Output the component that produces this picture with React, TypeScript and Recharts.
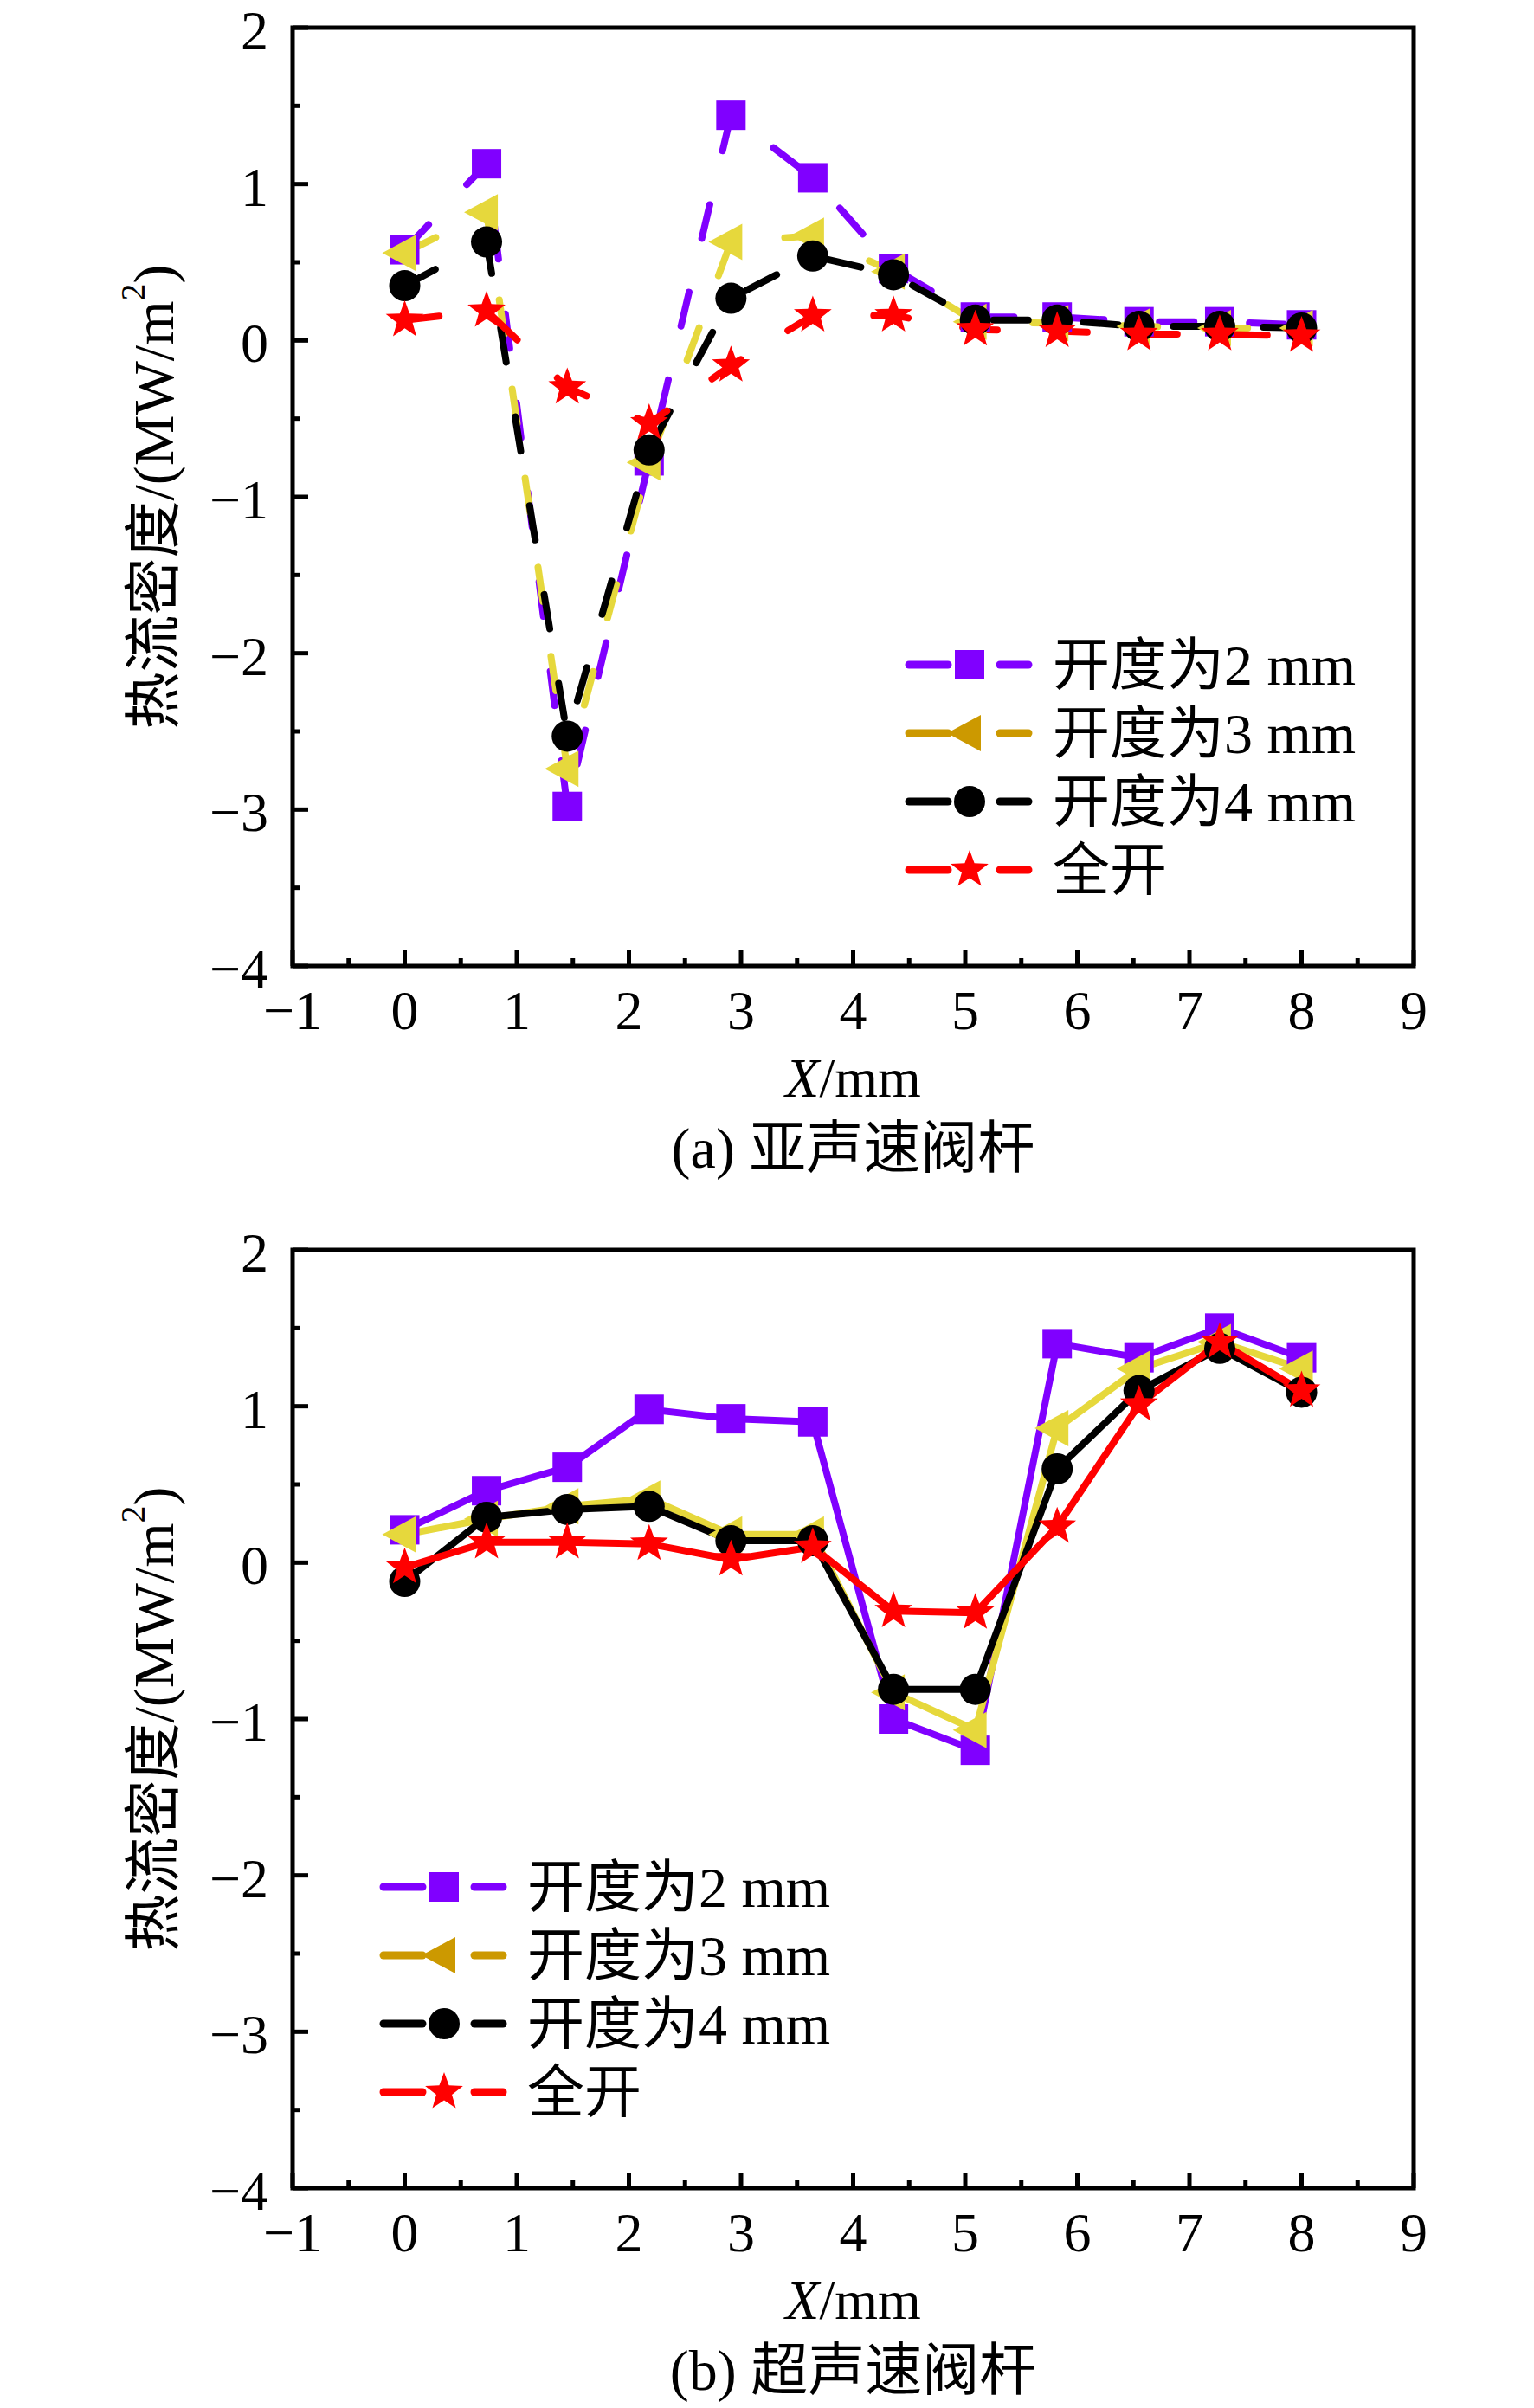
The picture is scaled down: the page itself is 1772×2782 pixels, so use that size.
import React from "react";
import { LineChart, Line, XAxis, YAxis, ReferenceArea, Legend } from "recharts";

const FONT = "'Liberation Serif', 'Times New Roman', 'Noto Sans CJK SC', serif";

// measuring positions along the stem, mm
const xPositions = [0, 0.73, 1.45, 2.18, 2.91, 3.64, 4.36, 5.09, 5.82, 6.55, 7.27, 8];

// (a) subsonic stem, heat flux MW/m2
const subOpen2 = [0.58, 1.13, -2.98, -0.77, 1.44, 1.04, 0.46, 0.15, 0.15, 0.12, 0.12, 0.1];
const subOpen3 = [0.56, 0.82, -2.74, -0.78, 0.63, 0.67, 0.44, 0.12, 0.11, 0.09, 0.08, 0.08];
const subOpen4 = [0.35, 0.63, -2.53, -0.7, 0.27, 0.54, 0.42, 0.13, 0.13, 0.09, 0.09, 0.08];
const subFull = [0.13, 0.19, -0.3, -0.53, -0.16, 0.16, 0.16, 0.07, 0.06, 0.04, 0.04, 0.03];

// (b) supersonic stem
const supOpen2 = [0.21, 0.46, 0.61, 0.98, 0.92, 0.9, -1.0, -1.2, 1.4, 1.31, 1.5, 1.31];
const supOpen3 = [0.18, 0.28, 0.36, 0.41, 0.18, 0.18, -0.83, -1.07, 0.86, 1.24, 1.41, 1.24];
const supOpen4 = [-0.12, 0.29, 0.34, 0.36, 0.14, 0.14, -0.81, -0.81, 0.6, 1.1, 1.37, 1.09];
const supFull = [-0.03, 0.13, 0.13, 0.12, 0.02, 0.1, -0.31, -0.32, 0.23, 1.01, 1.41, 1.1];

const seriesNames = ["开度为2 mm", "开度为3 mm", "开度为4 mm", "全开"];
const xTicks = [-1, -0.5, 0, 0.5, 1, 1.5, 2, 2.5, 3, 3.5, 4, 4.5, 5, 5.5, 6, 6.5, 7, 7.5, 8, 8.5, 9];
const yTicks = [-4, -3.5, -3, -2.5, -2, -1.5, -1, -0.5, 0, 0.5, 1, 1.5, 2];

const series = [
  { key: "o2", name: seriesNames[0], color: "#8000ff", legendColor: "#8000ff", shape: "square" },
  { key: "o3", name: seriesNames[1], color: "#e6d83c", legendColor: "#cc9900", shape: "triangle" },
  { key: "o4", name: seriesNames[2], color: "#000000", legendColor: "#000000", shape: "circle" },
  { key: "full", name: seriesNames[3], color: "#ff0000", legendColor: "#ff0000", shape: "star" },
];

const buildRows = (o2: number[], o3: number[], o4: number[], full: number[]) =>
  xPositions.map((x, i) => ({ x, o2: o2[i], o3: o3[i], o4: o4[i], full: full[i] }));

const subRows = buildRows(subOpen2, subOpen3, subOpen4, subFull);
const supRows = buildRows(supOpen2, supOpen3, supOpen4, supFull);

const fmt = (v: number) => (v < 0 ? "\u2212" + Math.abs(v) : String(v));

const Marker = ({ shape, x, y, color }: any) => {
  if (shape === "square") return <rect x={x - 17} y={y - 17} width={34} height={34} fill={color} />;
  if (shape === "triangle")
    return <polygon points={`${x - 26},${y} ${x + 13},${y - 21} ${x + 13},${y + 21}`} fill={color} />;
  if (shape === "circle") return <circle cx={x} cy={y} r={18} fill={color} />;
  // five point star
  const pts: string[] = [];
  for (let k = 0; k < 10; k++) {
    const r = k % 2 === 0 ? 23 : 9.5;
    const a = -Math.PI / 2 + (k * Math.PI) / 5;
    pts.push(`${x + r * Math.cos(a)},${y + r * Math.sin(a)}`);
  }
  return <polygon points={pts.join(" ")} fill={color} />;
};

const makeDot = (shape: string, color: string) => (props: any) => {
  const { cx, cy, index } = props;
  if (cx == null || cy == null) return <g key={`d-${index}`} />;
  return (
    <g key={`d-${index}`}>
      <Marker shape={shape} x={cx} y={cy} color={color} />
    </g>
  );
};

const XTick = (props: any) => {
  const { x, y, payload } = props;
  const v = payload.value;
  const major = Number.isInteger(v);
  return (
    <g>
      <line x1={x} x2={x} y1={y} y2={y - (major ? 18 : 9)} stroke="#000" strokeWidth={5} />
      {major && (
        <text x={x} y={y + 73} textAnchor="middle" fontSize={64} fontFamily={FONT} fill="#000">
          {fmt(v)}
        </text>
      )}
    </g>
  );
};

const YTick = (props: any) => {
  const { x, y, payload } = props;
  const v = payload.value;
  const major = Number.isInteger(v);
  return (
    <g>
      <line x1={x} x2={x + (major ? 18 : 9)} y1={y} y2={y} stroke="#000" strokeWidth={5} />
      {major && (
        <text x={x - 28} y={y + 25} textAnchor="end" fontSize={64} fontFamily={FONT} fill="#000">
          {fmt(v)}
        </text>
      )}
    </g>
  );
};

const LegendBox = () => (
  <svg width={640} height={360} style={{ overflow: "visible" }}>
    {series.map((s, i) => {
      const cy = 45 + i * 79;
      return (
        <g key={s.key}>
          <line x1={5} x2={50} y1={cy} y2={cy} stroke={s.legendColor} strokeWidth={9} strokeLinecap="round" />
          <Marker shape={s.shape} x={75} y={cy} color={s.legendColor} />
          <line x1={110} x2={143} y1={cy} y2={cy} stroke={s.legendColor} strokeWidth={9} strokeLinecap="round" />
          <text x={171} y={cy + 23} fontSize={66} fontFamily={FONT} fill="#000">
            {s.name}
          </text>
        </g>
      );
    })}
  </svg>
);

interface ChartProps {
  rows: any[];
  dashed: boolean;
  caption: string;
  height: number;
  plotTop: number;
  legendLeft: number;
}

const HeatFluxChart = ({ rows, dashed, caption, height, plotTop, legendLeft }: ChartProps) => {
  const plotHeight = 1084;
  return (
    <LineChart
      width={1772}
      height={height}
      data={rows}
      margin={{ top: plotTop, right: 139, left: 337, bottom: height - plotTop - plotHeight - 1 }}
    >
      <ReferenceArea x1={-1} x2={9} y1={-4} y2={2} fill="none" stroke="#000" strokeWidth={5} ifOverflow="visible" />
      <XAxis
        dataKey="x"
        type="number"
        domain={[-1, 9]}
        ticks={xTicks}
        interval={0}
        allowDataOverflow
        height={1}
        tickSize={0}
        tickMargin={0}
        axisLine={false}
        tickLine={false}
        tick={<XTick />}
        label={{
          content: (p: any) => {
            const vb = p.viewBox || { x: 338, y: plotTop + plotHeight, width: 1295 };
            const cx = vb.x + vb.width / 2;
            return (
              <g>
                <text x={cx} y={vb.y + 151} textAnchor="middle" fontSize={64} fontFamily={FONT} fill="#000">
                  <tspan fontStyle="italic">X</tspan>
                  <tspan>/mm</tspan>
                </text>
                <text x={cx} y={vb.y + 233} textAnchor="middle" fontSize={66} fontFamily={FONT} fill="#000">
                  {caption}
                </text>
              </g>
            );
          },
        }}
      />
      <YAxis
        type="number"
        domain={[-4, 2]}
        ticks={yTicks}
        interval={0}
        allowDataOverflow
        width={1}
        tickSize={0}
        tickMargin={0}
        axisLine={false}
        tickLine={false}
        tick={<YTick />}
        label={{
          content: (p: any) => {
            const vb = p.viewBox || { x: 337, y: plotTop, width: 1, height: plotHeight };
            const lx = vb.x + vb.width - 161;
            const ly = vb.y + vb.height / 2;
            return (
              <text
                x={lx}
                y={ly}
                transform={`rotate(-90 ${lx} ${ly})`}
                textAnchor="middle"
                dominantBaseline="central"
                fontSize={66}
                fontFamily={FONT}
                fill="#000"
              >
                热流密度/(MW/m
                <tspan dy={-24} fontSize={40}>2</tspan>
                <tspan dy={24}>)</tspan>
              </text>
            );
          },
        }}
      />
      <Legend
        layout="horizontal"
        verticalAlign="middle"
        align="center"
        content={() => <LegendBox />}
        wrapperStyle={{ left: legendLeft, top: plotTop + 691, width: 640, height: 360 }}
      />
      {series.map((s) => (
        <Line
          key={s.key}
          dataKey={s.key}
          name={s.name}
          type="linear"
          stroke={s.color}
          strokeWidth={8}
          strokeDasharray={dashed ? "40 64" : undefined}
          strokeLinecap="round"
          strokeLinejoin="round"
          dot={makeDot(s.shape, s.color)}
          activeDot={false}
          isAnimationActive={false}
        />
      ))}
    </LineChart>
  );
};

export default function App() {
  return (
    <div style={{ position: "absolute", left: 0, top: 0, width: 1772, height: 2782, background: "#fff" }}>
      <HeatFluxChart rows={subRows} dashed caption="(a) 亚声速阀杆" height={1392} plotTop={32} legendLeft={1045} />
      <HeatFluxChart rows={supRows} dashed={false} caption="(b) 超声速阀杆" height={1390} plotTop={52} legendLeft={438} />
    </div>
  );
}
